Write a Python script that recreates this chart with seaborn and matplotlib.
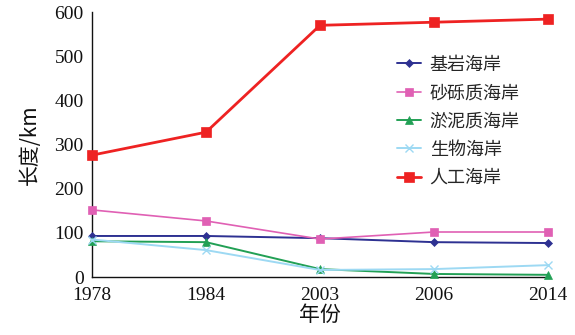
import matplotlib
matplotlib.use("Agg")
import matplotlib.pyplot as plt
import seaborn as sns
import pandas as pd

years = ["1978", "1984", "2003", "2006", "2014"]
series_names = ["基岩海岸", "砂砾质海岸", "淤泥质海岸", "生物海岸", "人工海岸"]
bedrock = [93, 93, 88, 79, 77]
gravel = [152, 127, 86, 102, 102]
muddy = [81, 79, 18, 7, 5]
biological = [85, 61, 16, 18, 27]
artificial = [276, 328, 570, 577, 584]

values = [bedrock, gravel, muddy, biological, artificial]
colors = ["#2e3192", "#e060b4", "#22a055", "#9dd9f3", "#ee2222"]
markers = ["D", "s", "^", "x", "s"]
msizes = [4, 5.5, 6, 6, 7]
lwidths = [1.4, 1.2, 1.4, 1.4, 2.0]

sns.set_theme(style="white")
plt.rcParams["font.family"] = ["Liberation Serif", "Noto Sans CJK SC"]
plt.rcParams["axes.unicode_minus"] = False

fig = plt.figure(figsize=(5.75, 3.35), dpi=100)
ax = fig.add_axes([0.16, 0.173, 0.793, 0.791])

pos = list(range(len(years)))
for name, vals, c, m, ms, lw in zip(series_names, values, colors, markers, msizes, lwidths):
    df = pd.DataFrame({"x": pos, "y": vals})
    sns.lineplot(data=df, x="x", y="y", ax=ax, color=c, marker=m,
                 markersize=ms, linewidth=lw, markeredgecolor=c,
                 markeredgewidth=1.0 if m == "x" else 0.5,
                 label=name, clip_on=False, zorder=3)

ax.set_xlim(0, 4)
ax.set_ylim(0, 600)
ax.set_xticks(pos)
ax.set_xticklabels(years)
ax.set_yticks(range(0, 601, 100))
ax.tick_params(axis="both", direction="in", length=3, width=0.8,
               labelsize=14, colors="#111111")
ax.tick_params(axis="y", pad=6)
ax.tick_params(axis="x", pad=7.5)
for side in ["top", "right"]:
    ax.spines[side].set_visible(False)
for side in ["left", "bottom"]:
    ax.spines[side].set_color("#111111")
    ax.spines[side].set_linewidth(1.0)

ax.set_xlabel("年份", fontsize=15, family=["Noto Sans CJK SC"], labelpad=0, color="#111111")
ax.set_ylabel("长度/km", fontsize=15, family=["Noto Sans CJK SC", "Liberation Serif"],
              labelpad=10, color="#111111")

leg = ax.legend(loc="upper left", bbox_to_anchor=(0.669, 0.835), frameon=False,
                borderpad=0, borderaxespad=0,
                prop={"family": "Noto Sans CJK SC", "size": 13},
                handlelength=1.3, handletextpad=0.5, labelspacing=0.57)

fig.savefig("out.png", dpi=100, facecolor="white")
